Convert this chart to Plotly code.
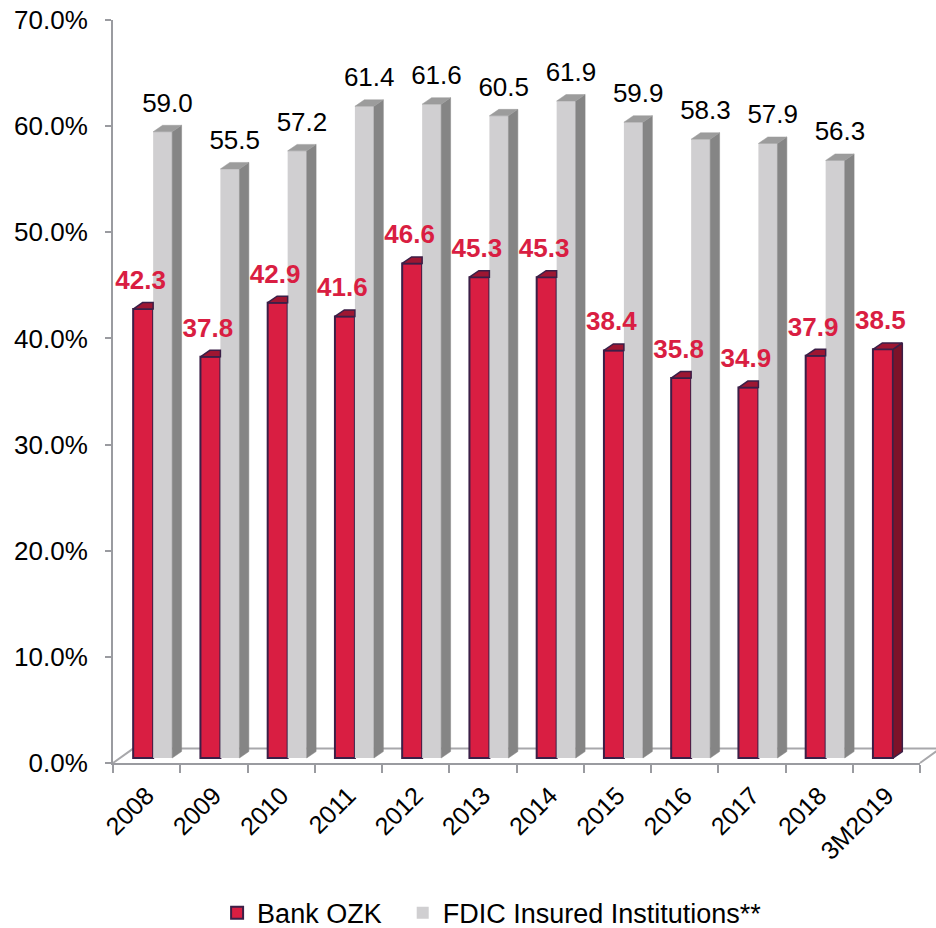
import plotly.graph_objects as go

categories = ["2008", "2009", "2010", "2011", "2012", "2013", "2014", "2015",
              "2016", "2017", "2018", "3M2019"]
bank_ozk = [42.3, 37.8, 42.9, 41.6, 46.6, 45.3, 45.3, 38.4, 35.8, 34.9, 37.9, 38.5]
fdic = [59.0, 55.5, 57.2, 61.4, 61.6, 60.5, 61.9, 59.9, 58.3, 57.9, 56.3, None]
y_ticks = [0, 10, 20, 30, 40, 50, 60, 70]

# styling / pseudo-3D geometry (category units, value units)
FONT = "Liberation Sans, Arial, sans-serif"
RED_FRONT, RED_TOP, RED_SIDE, RED_EDGE = "#d91e42", "#9e1632", "#7c1229", "#3b1f47"
GRAY_FRONT, GRAY_TOP, GRAY_SIDE = "#d0cfd1", "#9c9c9c", "#858585"
AXIS_COL = "#9a9ba0"
BASE = 0.47          # bar base lifted above the front floor edge
DX, DY = 0.14, 0.61  # bar depth offset
RED_OFF, RED_W = -0.20, 0.297
GRAY_OFF, GRAY_W = 0.097, 0.283
FLOOR_DX, FLOOR_DY = 0.30, 1.36
X_MIN, X_MAX, Y_MAX = -0.5, 11.5, 70

xs = list(range(len(categories)))

fig = go.Figure()

# front faces
fig.add_trace(go.Bar(
    x=xs, y=bank_ozk, base=BASE, offset=RED_OFF, width=RED_W,
    name="Bank OZK", marker=dict(color=RED_FRONT, line=dict(color=RED_EDGE, width=2)),
    hoverinfo="skip", legend="legend"))
fig.add_trace(go.Bar(
    x=xs, y=[v if v is not None else 0 for v in fdic], base=BASE, offset=GRAY_OFF, width=GRAY_W,
    name="FDIC Insured Institutions**", marker=dict(color=GRAY_FRONT, line=dict(width=0)),
    hoverinfo="skip", legend="legend2"))

# tops and sides
def poly_trace(polys, fill, line_col, lw):
    px, py = [], []
    for p in polys:
        for (a, b) in p + [p[0]]:
            px.append(a); py.append(b)
        px.append(None); py.append(None)
    return go.Scatter(x=px, y=py, mode="lines", fill="toself", fillcolor=fill,
                      line=dict(color=line_col, width=lw), showlegend=False,
                      hoverinfo="skip")

red_tops, red_sides, gray_tops, gray_sides = [], [], [], []
for i, (r, g) in enumerate(zip(bank_ozk, fdic)):
    x0, x1 = i + RED_OFF, i + RED_OFF + RED_W
    t = r + BASE
    if g is not None:
        red_tops.append([(x0, t), (x1, t), (x1, t + DY), (x0 + DX, t + DY)])
        gx0, gx1 = i + GRAY_OFF, i + GRAY_OFF + GRAY_W
        gt = g + BASE
        gray_tops.append([(gx0, gt), (gx1, gt), (gx1 + DX, gt + DY), (gx0 + DX, gt + DY)])
        gray_sides.append([(gx1, BASE), (gx1, gt), (gx1 + DX, gt + DY), (gx1 + DX, BASE + DY)])
    else:
        red_tops.append([(x0, t), (x1, t), (x1 + DX, t + DY), (x0 + DX, t + DY)])
        red_sides.append([(x1, BASE), (x1, t), (x1 + DX, t + DY), (x1 + DX, BASE + DY)])

fig.add_trace(poly_trace(gray_sides, GRAY_SIDE, GRAY_SIDE, 0.5))
fig.add_trace(poly_trace(gray_tops, GRAY_TOP, GRAY_TOP, 0.5))
fig.add_trace(poly_trace(red_sides, RED_SIDE, RED_EDGE, 1.5))
fig.add_trace(poly_trace(red_tops, RED_TOP, RED_EDGE, 1.5))

# data labels
fig.add_trace(go.Scatter(
    x=[i + 0.31 for i, g in enumerate(fdic) if g is not None],
    y=[g + BASE + DY + 1.9 for g in fdic if g is not None],
    text=[f"{g:.1f}" for g in fdic if g is not None],
    mode="text", textposition="middle center",
    textfont=dict(family=FONT, size=26, color="#000000"),
    showlegend=False, hoverinfo="skip", cliponaxis=False))
fig.add_trace(go.Scatter(
    x=[i - 0.09 for i in xs],
    y=[r + BASE + DY + 1.9 for r in bank_ozk],
    text=[f"<b>{r:.1f}</b>" for r in bank_ozk],
    mode="text", textposition="middle center",
    textfont=dict(family=FONT, size=26, color=RED_FRONT),
    showlegend=False, hoverinfo="skip", cliponaxis=False))

# floor (paper coordinates computed from data coordinates)
def to_paper(x, y):
    return (x - X_MIN) / (X_MAX - X_MIN), y / Y_MAX

p1 = to_paper(X_MIN, 0)
p2 = to_paper(X_MIN + FLOOR_DX, FLOOR_DY)
p3 = to_paper(X_MAX + FLOOR_DX, FLOOR_DY)
p4 = to_paper(X_MAX, 0)
fig.add_shape(type="path", xref="paper", yref="paper", layer="below",
              path=f"M {p1[0]} {p1[1]} L {p2[0]} {p2[1]} L {p3[0]} {p3[1]} L {p4[0]} {p4[1]}",
              line=dict(color="#a8a8ab", width=2), fillcolor="rgba(0,0,0,0)")

legend_common = dict(orientation="h", xanchor="left", y=-0.202, yanchor="middle",
                     font=dict(family=FONT, size=27), itemwidth=30,
                     bgcolor="rgba(0,0,0,0)")

fig.update_layout(
    width=936, height=928,
    margin=dict(l=113, r=16, t=20, b=165, autoexpand=False),
    plot_bgcolor="white", paper_bgcolor="white",
    barmode="overlay",
    font=dict(family=FONT, size=25, color="#000000"),
    showlegend=True,
    legend=dict(x=0.129, **legend_common),
    legend2=dict(x=0.359, **legend_common),
    xaxis=dict(range=[X_MIN, X_MAX], tickmode="array", tickvals=xs, ticktext=categories,
               tickangle=-45, ticks="", showgrid=False, zeroline=False, automargin=False,
               showline=True, linecolor=AXIS_COL, linewidth=2, ticklabelstandoff=6,
               tickfont=dict(family=FONT, size=25),
               minor=dict(tickmode="array", tickvals=[i - 0.5 for i in range(len(categories) + 1)],
                          ticks="outside", ticklen=8, tickwidth=2, tickcolor=AXIS_COL,
                          showgrid=False)),
    yaxis=dict(range=[0, Y_MAX], tickmode="array", tickvals=y_ticks,
               ticktext=[f"{v:.1f}%" for v in y_ticks], automargin=False,
               ticks="outside", ticklen=6, tickwidth=2, tickcolor=AXIS_COL,
               ticklabelstandoff=12,
               showgrid=False, zeroline=False, showline=True, linecolor=AXIS_COL, linewidth=2,
               tickfont=dict(family=FONT, size=26)),
)

fig.write_html("out.html")
